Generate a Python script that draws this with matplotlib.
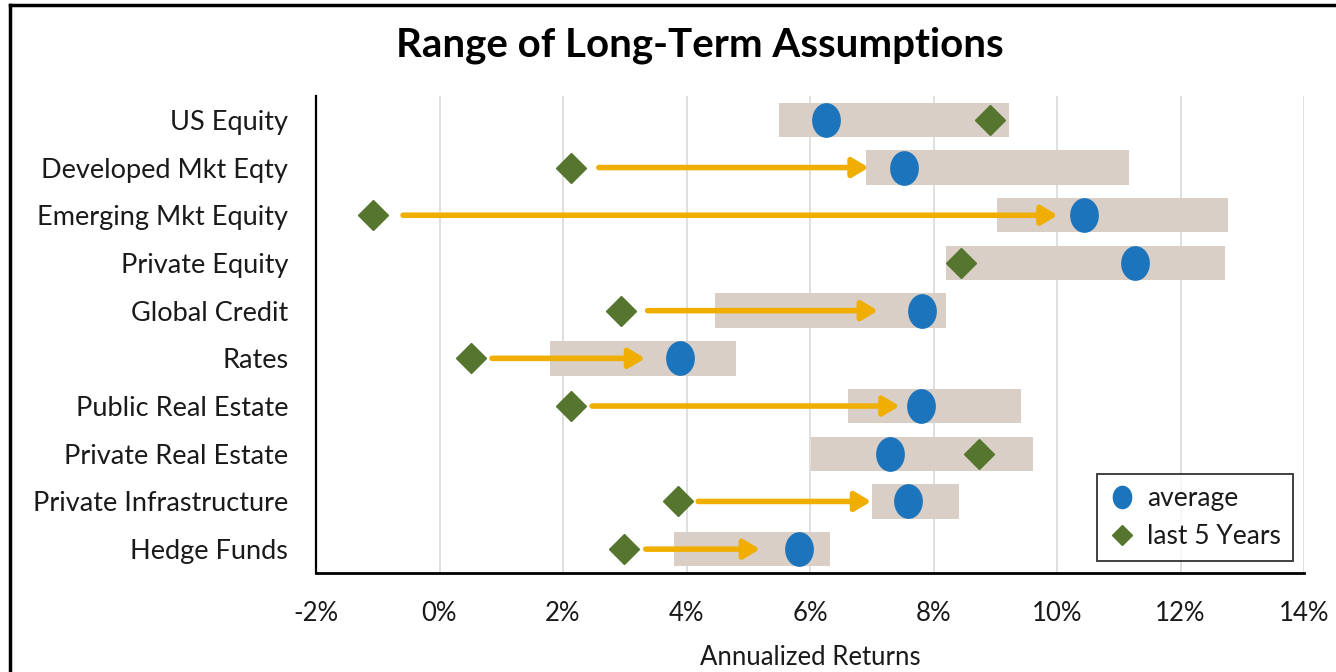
import numpy as np
import matplotlib
matplotlib.use("Agg")
import matplotlib.pyplot as plt
from matplotlib.path import Path
from matplotlib.lines import Line2D

plt.rcParams['font.family'] = ['Lato', 'DejaVu Sans']

# asset classes, top to bottom
labels = ["US Equity", "Developed Mkt Eqty", "Emerging Mkt Equity", "Private Equity",
          "Global Credit", "Rates", "Public Real Estate", "Private Real Estate",
          "Private Infrastructure", "Hedge Funds"]

# range of long-term assumptions (%)
low = [5.50, 6.91, 9.03, 8.21, 4.46, 1.79, 6.62, 6.01, 7.01, 3.80]
high = [9.22, 11.16, 12.77, 12.72, 8.21, 4.80, 9.41, 9.61, 8.41, 6.32]
average = [6.26, 7.53, 10.43, 11.26, 7.82, 3.89, 7.80, 7.30, 7.59, 5.82]
last5 = [8.91, 2.13, -1.08, 8.45, 2.94, 0.51, 2.13, 8.73, 3.87, 2.98]

# arrows from last 5 yrs toward the average (nan = no arrow)
arrow_from = [np.nan, 2.58, -0.59, np.nan, 3.37, 0.85, 2.47, np.nan, 4.19, 3.34]
arrow_to = [np.nan, 6.95, 10.01, np.nan, 7.10, 3.33, 7.45, np.nan, 6.99, 5.19]

xticks = [-2, 0, 2, 4, 6, 8, 10, 12, 14]

c_box = '#D9CFC7'
c_avg = '#1C75BC'
c_last = '#56762F'
c_arrow = '#F0AF00'
c_text = '#1a1a1a'

# slightly tall ellipse for the average marker
t = np.linspace(0, 2 * np.pi, 73)
ell = Path(np.column_stack([0.41 * np.cos(t), 0.5 * np.sin(t)]), closed=True)

fig = plt.figure(figsize=(13.36, 6.72), dpi=100)
ax = fig.add_axes([316 / 1336, 1 - 573 / 672, 988 / 1336, 477 / 672])

y = np.arange(len(labels))
ax.barh(y, np.array(high) - np.array(low), left=low, height=0.72,
        color=c_box, zorder=2)

for i in range(len(labels)):
    if np.isnan(arrow_from[i]):
        continue
    ax.annotate('', xy=(arrow_to[i], y[i]), xytext=(arrow_from[i], y[i]),
                arrowprops=dict(arrowstyle='-|>,head_length=0.5,head_width=0.3',
                                mutation_scale=19, lw=4, color=c_arrow,
                                shrinkA=0, shrinkB=0),
                zorder=3)

ax.plot(average, y, linestyle='none', marker=ell, markersize=24,
        color=c_avg, zorder=4)
ax.plot(last5, y, linestyle='none', marker='D', markersize=15,
        color=c_last, zorder=4)

ax.set_xlim(-2, 14)
ax.set_ylim(9.5, -0.5)
ax.set_xticks(xticks)
ax.set_xticklabels([f"{v}%" for v in xticks], fontsize=18.5, color=c_text)
ax.set_yticks(y)
ax.set_yticklabels(labels, fontsize=19.5, color=c_text)
ax.tick_params(axis='both', length=0)
ax.tick_params(axis='x', pad=20)
ax.tick_params(axis='y', pad=20)

ax.grid(axis='x', color='#D9D9D9', lw=1.2, zorder=0)
ax.set_axisbelow(True)
for s in ['top', 'right']:
    ax.spines[s].set_visible(False)
ax.spines['left'].set_linewidth(1.6)
ax.spines['bottom'].set_linewidth(2.0)
ax.spines['left'].set_zorder(5)

ax.set_xlabel("Annualized Returns", fontsize=18.5, color=c_text, labelpad=14)

handles = [Line2D([], [], linestyle='none', marker=ell, markersize=16, color=c_avg),
           Line2D([], [], linestyle='none', marker='D', markersize=10.5, color=c_last)]
leg = ax.legend(handles, ["average", "last 5 Years"], loc='lower right',
                bbox_to_anchor=(0.9885, 0.025), borderaxespad=0, fontsize=19,
                frameon=True, fancybox=False, handlelength=1.0, handletextpad=0.45,
                labelspacing=0.5, borderpad=0.45)
leg.get_frame().set_edgecolor('black')
leg.get_frame().set_linewidth(1.3)
for txt in leg.get_texts():
    txt.set_color(c_text)

fig.text(0.524, 1 - 45 / 672, "Range of Long-Term Assumptions", ha='center',
         va='center', fontsize=29, fontweight='bold', color='black')

# outer frame lines
fig.add_artist(Line2D([10 / 1336, 1], [1 - 5 / 672, 1 - 5 / 672],
                      transform=fig.transFigure, color='black', lw=2.5))
fig.add_artist(Line2D([10 / 1336, 10 / 1336], [0, 1 - 5 / 672],
                      transform=fig.transFigure, color='black', lw=2.5))

fig.savefig("out.png", dpi=100)
